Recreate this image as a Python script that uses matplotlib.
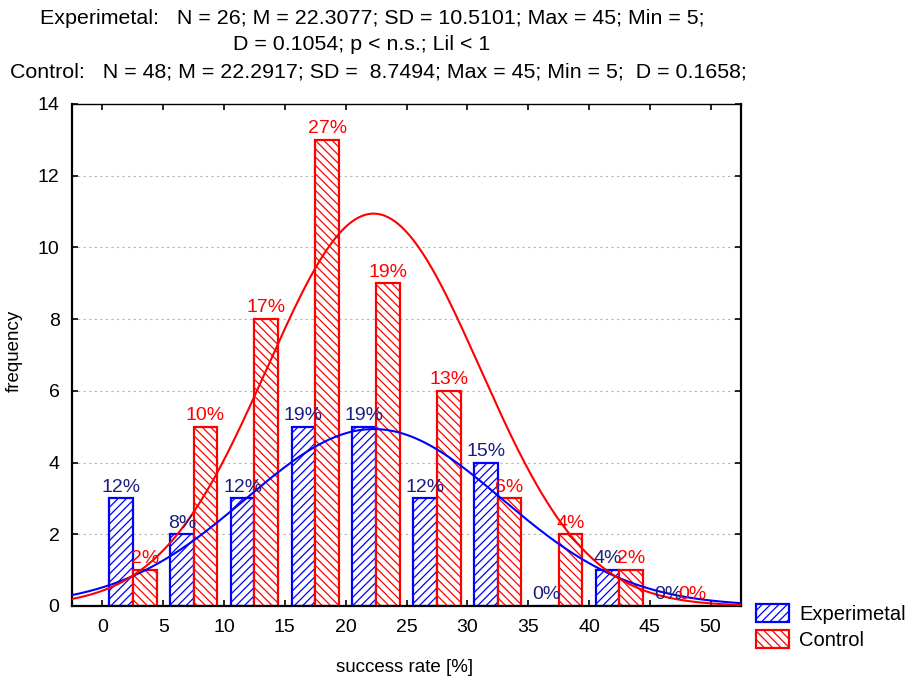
import numpy as np
import matplotlib
matplotlib.use("Agg")
import matplotlib.pyplot as plt

plt.rcParams["font.family"] = ["Liberation Sans", "DejaVu Sans"]
plt.rcParams["hatch.linewidth"] = 0.9

# histogram data (bins of 5 %)
bin_left = [0, 5, 10, 15, 20, 25, 30, 35, 40, 45]
exp_freq = [3, 2, 3, 5, 5, 3, 4, 0, 1, 0]
ctl_freq = [1, 5, 8, 13, 9, 6, 3, 2, 1, 0]
exp_pct = ["12%", "8%", "12%", "19%", "19%", "12%", "15%", "0%", "4%", "0%"]
ctl_pct = ["2%", "10%", "17%", "27%", "19%", "13%", "6%", "4%", "2%", "0%"]

# summary stats shown in the header (used for the fitted normal curves)
exp_n, exp_mean, exp_sd = 26, 22.3077, 10.5101
ctl_n, ctl_mean, ctl_sd = 48, 22.2917, 8.7494
bin_w = 5

title_lines = [
    "Experimetal:   N = 26; M = 22.3077; SD = 10.5101; Max = 45; Min = 5;",
    "D = 0.1054; p < n.s.; Lil < 1",
    "Control:   N = 48; M = 22.2917; SD =  8.7494; Max = 45; Min = 5;  D = 0.1658;",
]

BLUE = "#0000ff"
RED = "#ff0000"
NAVY = "#1c1c80"

fig = plt.figure(figsize=(9.16, 6.84), dpi=100)
ax = fig.add_axes([72 / 916, 1 - 606 / 684, (741 - 72) / 916, (606 - 104) / 684])

centers = np.array(bin_left) + bin_w / 2
bw = 1.95
b1 = ax.bar(centers - bw / 2, exp_freq, width=bw, color="white", edgecolor=BLUE,
            linewidth=1.6, hatch="////", label="Experimetal", zorder=2)
b2 = ax.bar(centers + bw / 2, ctl_freq, width=bw, color="white", edgecolor=RED,
            linewidth=1.6, hatch="\\\\\\\\", label="Control", zorder=2)

xs = np.linspace(-2.5, 52.5, 400)
def normal_curve(n, m, sd):
    return n * bin_w / (sd * np.sqrt(2 * np.pi)) * np.exp(-0.5 * ((xs - m) / sd) ** 2)

ax.plot(xs, normal_curve(exp_n, exp_mean, exp_sd), color=BLUE, lw=1.5, zorder=3)
ax.plot(xs, normal_curve(ctl_n, ctl_mean, ctl_sd), color=RED, lw=1.5, zorder=3)

for c, h, t in zip(centers - bw / 2, exp_freq, exp_pct):
    ax.annotate(t, (c, h), xytext=(0, 2), textcoords="offset points",
                ha="center", va="bottom", color=NAVY, fontsize=14, zorder=4)
for c, h, t in zip(centers + bw / 2, ctl_freq, ctl_pct):
    ax.annotate(t, (c, h), xytext=(0, 2), textcoords="offset points",
                ha="center", va="bottom", color=RED, fontsize=14, zorder=4)

ax.set_xlim(-2.5, 52.5)
ax.set_ylim(0, 14)
ax.set_xticks(range(0, 51, 5))
ax.set_yticks(range(0, 15, 2))
ax.yaxis.grid(True, color="#b4b4b4", linestyle=(0, (2, 3)), linewidth=0.8)
ax.set_axisbelow(True)
ax.tick_params(direction="in", length=4, width=1.2, labelsize=14,
               top=True, right=True, color="black")
ax.tick_params(axis="x", pad=9)
ax.tick_params(axis="y", pad=9)
for s in ["left", "bottom", "right"]:
    ax.spines[s].set_linewidth(1.6)
ax.spines["top"].set_linewidth(1.0)

fig.text(405 / 916, 1 - 668 / 684, "success rate [%]", fontsize=13.5, ha="center", va="center")
fig.text(14 / 916, 1 - 351 / 684, "frequency", fontsize=13.5, ha="center", va="center",
         rotation=90)

fig.text(40 / 916, 1 - 18 / 684, title_lines[0], fontsize=15.4, va="center", ha="left")
fig.text(362 / 916, 1 - 45 / 684, title_lines[1], fontsize=15.4, va="center", ha="center")
fig.text(10 / 916, 1 - 72 / 684, title_lines[2], fontsize=15.4, va="center", ha="left")

fig.legend(handles=[b1, b2], loc="upper left", bbox_to_anchor=(756 / 916, 1 - 604 / 684),
           frameon=False, fontsize=14.5, handlelength=1.65, handleheight=1.0,
           handletextpad=0.5, labelspacing=0.3, borderpad=0, borderaxespad=0)

fig.savefig("out.png", dpi=100)
